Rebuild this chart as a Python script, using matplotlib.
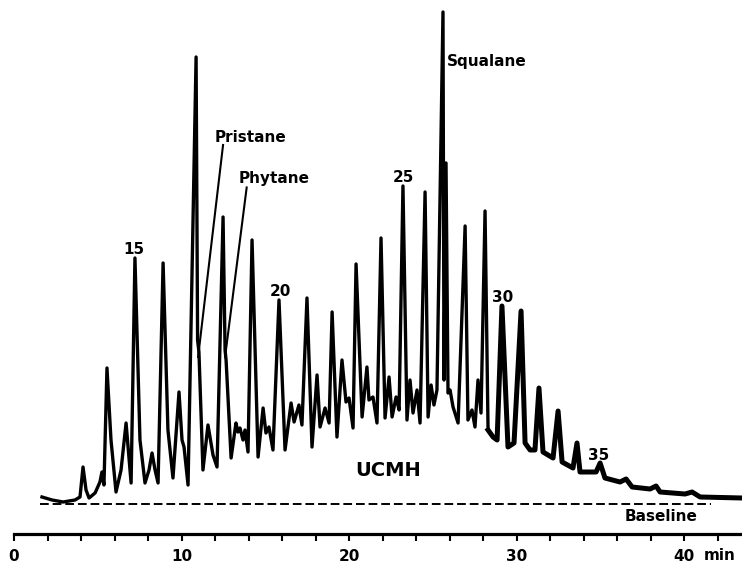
import matplotlib
matplotlib.use("Agg")
import matplotlib.pyplot as plt
import numpy as np

# retention time (min) and detector signal (arbitrary units, baseline = 0)
time_min = [1.67, 2.27, 2.93, 3.64, 3.94, 4.12, 4.30, 4.48, 4.84, 5.13,
            5.25, 5.37, 5.55, 5.79, 6.09, 6.39, 6.69, 6.99, 7.22, 7.52,
            7.82, 8.06, 8.24, 8.42, 8.60, 8.90, 9.19, 9.49, 9.85, 10.03,
            10.15, 10.39, 10.87, 10.96, 11.04, 11.28, 11.58, 11.88, 12.12, 12.48,
            12.60, 12.66, 12.96, 13.25, 13.37, 13.49, 13.67, 13.79, 13.97, 14.21,
            14.57, 14.87, 15.04, 15.22, 15.46, 15.82, 16.18, 16.54, 16.72, 17.01,
            17.19, 17.49, 17.79, 18.09, 18.27, 18.57, 18.81, 18.99, 19.28, 19.58,
            19.82, 20.00, 20.24, 20.42, 20.78, 21.07, 21.19, 21.43, 21.67, 21.91,
            22.15, 22.39, 22.57, 22.81, 22.99, 23.22, 23.46, 23.64, 23.82, 24.06,
            24.24, 24.54, 24.72, 24.90, 25.07, 25.25, 25.61, 25.67, 25.79, 25.91,
            26.03, 26.21, 26.51, 26.93, 27.10, 27.34, 27.52, 27.70, 27.88, 28.12,
            28.30, 28.60, 28.84, 29.13, 29.49, 29.85, 30.27, 30.51, 30.81, 31.10,
            31.34, 31.58, 32.18, 32.48, 32.72, 33.37, 33.61, 33.79, 34.39, 34.75,
            34.99, 35.28, 36.18, 36.54, 36.90, 37.97, 38.33, 38.57, 40.06, 40.48,
            40.96, 43.46]
signal = [1.4, 0.8, 0.4, 0.8, 1.4, 7.4, 2.8, 1.2, 2.2, 4.4,
          6.4, 3.8, 27.2, 12.8, 2.4, 6.8, 16.2, 4.2, 49.2, 12.8,
          4.2, 6.8, 10.2, 6.8, 4.2, 48.2, 14.8, 5.2, 22.4, 12.8,
          11.4, 3.8, 89.4, 32.8, 30.4, 6.8, 15.8, 9.8, 7.4, 57.4,
          30.8, 28.8, 9.2, 16.2, 14.4, 15.2, 12.8, 14.8, 10.4, 52.8,
          9.4, 19.2, 14.2, 15.4, 10.8, 40.8, 10.8, 20.2, 16.4, 19.8,
          15.8, 41.2, 11.4, 25.8, 15.4, 19.2, 16.2, 38.4, 13.4, 28.8,
          20.4, 21.2, 15.2, 48.0, 17.4, 27.4, 20.8, 21.4, 16.2, 53.2,
          17.2, 25.4, 17.4, 21.4, 18.8, 63.6, 16.8, 24.8, 18.2, 22.8,
          16.2, 62.4, 17.4, 23.8, 19.8, 22.8, 98.4, 24.8, 68.2, 22.2,
          22.8, 19.4, 16.2, 55.6, 16.8, 18.8, 15.4, 24.8, 18.2, 58.6,
          14.8, 13.4, 12.8, 39.6, 11.4, 12.2, 38.6, 12.2, 10.8, 10.8,
          23.2, 10.4, 9.2, 18.6, 8.4, 7.2, 12.2, 6.4, 6.4, 6.4,
          8.2, 5.2, 4.4, 5.0, 3.4, 3.0, 3.6, 2.4, 2.0, 2.4,
          1.4, 1.2]

# n-alkane carbon numbers marked on the trace
alkane_labels = ["15", "20", "25", "30", "35"]
alkane_pos = [(7.16, 50.8), (15.88, 42.6), (23.22, 65.4), (29.19, 41.4), (34.93, 9.8)]

fig = plt.figure(figsize=(7.42, 5.65), dpi=100)
ax = fig.add_axes([0, 0, 1, 1])

t = np.array(time_min)
s = np.array(signal)
ax.plot(t, s, color="black", lw=2.4, solid_joinstyle="round")
# the late, slowly falling part of the trace is drawn heavier in the original
tail = t >= 28.3
ax.plot(t[tail], s[tail], color="black", lw=3.6, solid_joinstyle="round")
ax.plot([1.55, 41.6], [0, 0], color="black", lw=1.4, dashes=(4.5, 2))

fnt = dict(family="DejaVu Sans", weight="bold", color="black")
for lab, (x, y) in zip(alkane_labels, alkane_pos):
    ax.text(x, y, lab, ha="center", va="center", fontsize=11, **fnt)

# named compounds with leader lines
ax.text(12.0, 72.4, "Pristane", ha="left", va="baseline", fontsize=11, **fnt)
ax.plot([12.48, 10.99], [71.8, 29.4], color="black", lw=1.5)
ax.text(13.43, 64.2, "Phytane", ha="left", va="baseline", fontsize=11, **fnt)
ax.plot([13.89, 12.60], [63.3, 29.4], color="black", lw=1.5)
ax.text(25.85, 87.6, "Squalane", ha="left", va="baseline", fontsize=11, **fnt)

ax.text(22.33, 6.8, "UCMH", ha="center", va="center", fontsize=14, **fnt)
ax.text(38.63, -2.5, "Baseline", ha="center", va="center", fontsize=11, **fnt)

# time axis
ax.set_xlim(-0.836, 43.46)
ax.set_ylim(-12.2, 100.8)
for sp in ["left", "right", "top"]:
    ax.spines[sp].set_visible(False)
ax.spines["bottom"].set_position(("data", -6.0))
ax.spines["bottom"].set_bounds(0, 43.46)
ax.spines["bottom"].set_linewidth(2.3)
ax.set_xticks([0, 10, 20, 30, 40])
ax.set_xticklabels(["0", "10", "20", "30", "40"])
ax.set_xticks(np.arange(0, 43, 2), minor=True)
ax.tick_params(axis="x", which="both", direction="out", length=5, width=1.5, color="black")
ax.tick_params(axis="x", which="major", pad=6, labelsize=11)
for lbl in ax.get_xticklabels():
    lbl.set_fontweight("bold")
ax.set_yticks([])
ax.text(42.15, -10.4, "min", ha="center", va="center", fontsize=11, **fnt)

fig.savefig("out.png", dpi=100, facecolor="white")
